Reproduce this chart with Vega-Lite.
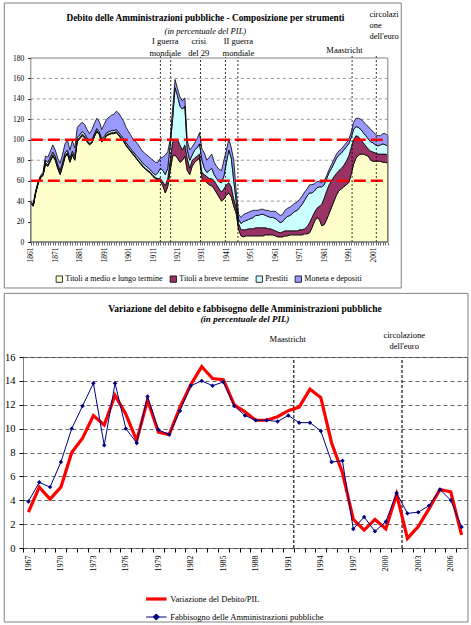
{
  "$schema": "https://vega.github.io/schema/vega-lite/v6.json",
  "padding": {"left": 3, "top": 2, "right": 4, "bottom": 3},
  "spacing": 3,
  "resolve": {"scale": {"color": "independent", "strokeWidth": "independent"}, "legend": {"color": "independent"}},
  "config": {
    "font": "Liberation Serif",
    "view": {"stroke": "#808080", "strokeWidth": 1},
    "axis": {"domain": false, "labelColor": "black", "tickColor": "black", "labelFont": "Liberation Serif"},
    "legend": {"labelFont": "Liberation Serif", "labelColor": "black"},
    "title": {"font": "Liberation Serif", "subtitleFont": "Liberation Serif", "color": "black", "subtitleColor": "black"}
  },
  "vconcat": [
    {
      "width": 364.8,
      "height": 184,
      "view": {"stroke": null},
      "title": {
        "text": "Debito delle Amministrazioni pubbliche - Composizione per strumenti",
        "subtitle": "(in percentuale del PIL)",
        "fontSize": 9.3,
        "fontWeight": "bold",
        "subtitleFontSize": 8.5,
        "subtitleFontStyle": "italic",
        "subtitlePadding": 3,
        "offset": -32.5,
        "anchor": "middle"
      },
      "encoding": {
        "x": {
          "field": "anno",
          "type": "quantitative",
          "scale": {"domain": [1857.81, 2007], "nice": false, "zero": false},
          "axis": {
            "title": null,
            "values": [1861,1862,1863,1864,1865,1866,1867,1868,1869,1870,1871,1872,1873,1874,1875,1876,1877,1878,1879,1880,1881,1882,1883,1884,1885,1886,1887,1888,1889,1890,1891,1892,1893,1894,1895,1896,1897,1898,1899,1900,1901,1902,1903,1904,1905,1906,1907,1908,1909,1910,1911,1912,1913,1914,1915,1916,1917,1918,1919,1920,1921,1922,1923,1924,1925,1926,1927,1928,1929,1930,1931,1932,1933,1934,1935,1936,1937,1938,1939,1940,1941,1942,1943,1944,1945,1946,1947,1948,1949,1950,1951,1952,1953,1954,1955,1956,1957,1958,1959,1960,1961,1962,1963,1964,1965,1966,1967,1968,1969,1970,1971,1972,1973,1974,1975,1976,1977,1978,1979,1980,1981,1982,1983,1984,1985,1986,1987,1988,1989,1990,1991,1992,1993,1994,1995,1996,1997,1998,1999,2000,2001,2002,2003,2004,2005,2006,2007],
            "format": "d",
            "labelExpr": "(datum.value - 1861) % 10 == 0 ? datum.label : ''",
            "labelAngle": 270,
            "labelFontSize": 7.5,
            "labelPadding": 2,
            "tickSize": 3,
            "tickWidth": 0.6,
            "labelOverlap": false,
            "labelBound": false,
            "labelFlush": false,
            "grid": false
          }
        },
        "y": {
          "field": "val",
          "type": "quantitative",
          "scale": {"domain": [0, 180], "nice": false, "zero": false},
          "axis": {
            "title": null,
            "values": [0, 20, 40, 60, 80, 100, 120, 140, 160, 180],
            "labelFontSize": 7.5,
            "tickSize": 3,
            "labelPadding": 4,
            "offset": -7.8,
            "labelOverlap": false,
            "grid": false
          }
        }
      },
      "layer": [
        {
          "data": {"values": [{"anno": 1850.16, "anno2": 2012.5, "val": 233.8, "val2": -45}]},
          "mark": {"type": "rect", "filled": false, "stroke": "#808080", "strokeWidth": 1},
          "encoding": {"x2": {"field": "anno2"}, "y2": {"field": "val2"}}
        },
        {
          "data": {
            "values": [
              {"anno": 1861, "anno2": 2007, "val": 20}, {"anno": 1861, "anno2": 2007, "val": 40},
              {"anno": 1861, "anno2": 2007, "val": 60}, {"anno": 1861, "anno2": 2007, "val": 80},
              {"anno": 1861, "anno2": 2007, "val": 100}, {"anno": 1861, "anno2": 2007, "val": 120},
              {"anno": 1861, "anno2": 2007, "val": 140}, {"anno": 1861, "anno2": 2007, "val": 160}
            ]
          },
          "mark": {"type": "rule", "color": "#808080", "strokeWidth": 0.8, "strokeDash": [3, 3]},
          "encoding": {"x2": {"field": "anno2"}}
        },
        {
          "data": {
            "values": [
              {"anno": 1861, "a": 38, "b": 0.5, "c": 0.5, "d": 1},
              {"anno": 1862, "a": 35, "b": 0.5, "c": 0.5, "d": 1},
              {"anno": 1863, "a": 48, "b": 0.5, "c": 0.5, "d": 1},
              {"anno": 1864, "a": 57, "b": 0.5, "c": 0.5, "d": 1},
              {"anno": 1865, "a": 63, "b": 0.5, "c": 0.5, "d": 1},
              {"anno": 1866, "a": 65, "b": 0.5, "c": 0.5, "d": 2},
              {"anno": 1867, "a": 76, "b": 1.5, "c": 2.5, "d": 4},
              {"anno": 1868, "a": 74, "b": 1.5, "c": 2.5, "d": 5},
              {"anno": 1869, "a": 79, "b": 1.5, "c": 2.5, "d": 6},
              {"anno": 1870, "a": 84, "b": 1.5, "c": 2.5, "d": 7},
              {"anno": 1871, "a": 80, "b": 1.5, "c": 2.5, "d": 6},
              {"anno": 1872, "a": 72, "b": 1.5, "c": 2.5, "d": 6},
              {"anno": 1873, "a": 66, "b": 1.5, "c": 2.5, "d": 7},
              {"anno": 1874, "a": 74, "b": 1.5, "c": 2.5, "d": 8},
              {"anno": 1875, "a": 83, "b": 1.5, "c": 2.5, "d": 9},
              {"anno": 1876, "a": 86, "b": 1.5, "c": 2.5, "d": 10},
              {"anno": 1877, "a": 78, "b": 1.5, "c": 2.5, "d": 8},
              {"anno": 1878, "a": 85, "b": 1.5, "c": 2.5, "d": 10},
              {"anno": 1879, "a": 80, "b": 1.5, "c": 2.5, "d": 8},
              {"anno": 1880, "a": 98, "b": 1.5, "c": 2.5, "d": 10},
              {"anno": 1881, "a": 101, "b": 1.5, "c": 2.5, "d": 10},
              {"anno": 1882, "a": 104, "b": 1.5, "c": 2.5, "d": 9},
              {"anno": 1883, "a": 102, "b": 1.5, "c": 2.5, "d": 9},
              {"anno": 1884, "a": 98, "b": 1.5, "c": 2.5, "d": 8},
              {"anno": 1885, "a": 95, "b": 1.5, "c": 2.5, "d": 7},
              {"anno": 1886, "a": 97, "b": 1, "c": 2, "d": 10},
              {"anno": 1887, "a": 103, "b": 1, "c": 2, "d": 10},
              {"anno": 1888, "a": 108, "b": 1, "c": 2, "d": 10},
              {"anno": 1889, "a": 105, "b": 1, "c": 2, "d": 10},
              {"anno": 1890, "a": 98, "b": 1, "c": 2, "d": 9},
              {"anno": 1891, "a": 100, "b": 1, "c": 2, "d": 12},
              {"anno": 1892, "a": 104, "b": 1, "c": 2, "d": 13},
              {"anno": 1893, "a": 105, "b": 1, "c": 2, "d": 14},
              {"anno": 1894, "a": 106, "b": 1, "c": 2, "d": 15},
              {"anno": 1895, "a": 106, "b": 1, "c": 2, "d": 16},
              {"anno": 1896, "a": 107, "b": 1, "c": 2, "d": 18},
              {"anno": 1897, "a": 104, "b": 1, "c": 2, "d": 19},
              {"anno": 1898, "a": 101, "b": 1, "c": 2, "d": 18},
              {"anno": 1899, "a": 98, "b": 1, "c": 2, "d": 17},
              {"anno": 1900, "a": 94, "b": 1, "c": 2, "d": 15},
              {"anno": 1901, "a": 91, "b": 1, "c": 2, "d": 14},
              {"anno": 1902, "a": 88, "b": 1, "c": 2, "d": 13},
              {"anno": 1903, "a": 85, "b": 1, "c": 2, "d": 12},
              {"anno": 1904, "a": 82, "b": 1, "c": 2, "d": 13},
              {"anno": 1905, "a": 79, "b": 1, "c": 2.5, "d": 12.5},
              {"anno": 1906, "a": 76, "b": 1, "c": 2.5, "d": 11.5},
              {"anno": 1907, "a": 73, "b": 1, "c": 2.5, "d": 11.5},
              {"anno": 1908, "a": 71, "b": 1, "c": 2.5, "d": 11.5},
              {"anno": 1909, "a": 69, "b": 1, "c": 2.5, "d": 11.5},
              {"anno": 1910, "a": 67, "b": 1, "c": 2.5, "d": 11.5},
              {"anno": 1911, "a": 64, "b": 1, "c": 2.5, "d": 12.5},
              {"anno": 1912, "a": 62, "b": 1, "c": 2.5, "d": 12.5},
              {"anno": 1913, "a": 60, "b": 2, "c": 6, "d": 10},
              {"anno": 1914, "a": 59, "b": 3, "c": 10, "d": 10},
              {"anno": 1915, "a": 55, "b": 4, "c": 11, "d": 13},
              {"anno": 1916, "a": 48, "b": 7, "c": 11, "d": 19},
              {"anno": 1917, "a": 54, "b": 8, "c": 10, "d": 16},
              {"anno": 1918, "a": 70, "b": 10, "c": 15, "d": 5},
              {"anno": 1919, "a": 84, "b": 14, "c": 22, "d": 10},
              {"anno": 1920, "a": 85, "b": 15, "c": 51, "d": 8},
              {"anno": 1921, "a": 82, "b": 18, "c": 43, "d": 7},
              {"anno": 1922, "a": 78, "b": 17, "c": 38, "d": 9},
              {"anno": 1923, "a": 80, "b": 10, "c": 40, "d": 8},
              {"anno": 1924, "a": 84, "b": 11, "c": 38, "d": 8},
              {"anno": 1925, "a": 70, "b": 12, "c": 8, "d": 9},
              {"anno": 1926, "a": 66, "b": 6, "c": 8, "d": 10},
              {"anno": 1927, "a": 74, "b": 6, "c": 5, "d": 8},
              {"anno": 1928, "a": 78, "b": 4, "c": 8, "d": 7},
              {"anno": 1929, "a": 80, "b": 4, "c": 8, "d": 9},
              {"anno": 1930, "a": 82, "b": 4, "c": 10, "d": 11},
              {"anno": 1931, "a": 62, "b": 6, "c": 12, "d": 11},
              {"anno": 1932, "a": 60, "b": 6, "c": 6, "d": 15},
              {"anno": 1933, "a": 58, "b": 6, "c": 4, "d": 12},
              {"anno": 1934, "a": 56, "b": 6, "c": 8, "d": 13},
              {"anno": 1935, "a": 55, "b": 7, "c": 10, "d": 14},
              {"anno": 1936, "a": 52, "b": 8, "c": 6, "d": 12},
              {"anno": 1937, "a": 48, "b": 8, "c": 6, "d": 12},
              {"anno": 1938, "a": 44, "b": 8, "c": 7, "d": 12},
              {"anno": 1939, "a": 40, "b": 9, "c": 9, "d": 12},
              {"anno": 1940, "a": 42, "b": 10, "c": 13, "d": 15},
              {"anno": 1941, "a": 46, "b": 10, "c": 22, "d": 12},
              {"anno": 1942, "a": 48, "b": 10, "c": 32, "d": 11},
              {"anno": 1943, "a": 44, "b": 10, "c": 28, "d": 10},
              {"anno": 1944, "a": 35, "b": 7, "c": 18, "d": 20},
              {"anno": 1945, "a": 28, "b": 6, "c": 6, "d": 10},
              {"anno": 1946, "a": 12, "b": 6, "c": 4, "d": 5},
              {"anno": 1947, "a": 6, "b": 6, "c": 6, "d": 6},
              {"anno": 1948, "a": 5, "b": 7, "c": 8, "d": 7},
              {"anno": 1949, "a": 6, "b": 6, "c": 9, "d": 7},
              {"anno": 1950, "a": 6, "b": 7, "c": 9, "d": 7},
              {"anno": 1951, "a": 6, "b": 7, "c": 10, "d": 7},
              {"anno": 1952, "a": 6, "b": 7, "c": 11, "d": 7},
              {"anno": 1953, "a": 6, "b": 8, "c": 12, "d": 5},
              {"anno": 1954, "a": 6, "b": 8, "c": 12, "d": 5},
              {"anno": 1955, "a": 6, "b": 8, "c": 13, "d": 5},
              {"anno": 1956, "a": 6, "b": 8, "c": 13, "d": 5},
              {"anno": 1957, "a": 7, "b": 7, "c": 12, "d": 5},
              {"anno": 1958, "a": 7, "b": 6, "c": 12, "d": 6},
              {"anno": 1959, "a": 7, "b": 6, "c": 11, "d": 6},
              {"anno": 1960, "a": 7, "b": 5, "c": 12, "d": 6},
              {"anno": 1961, "a": 6, "b": 5, "c": 12, "d": 7},
              {"anno": 1962, "a": 5, "b": 5, "c": 11, "d": 7},
              {"anno": 1963, "a": 5, "b": 4, "c": 10, "d": 7},
              {"anno": 1964, "a": 5, "b": 5, "c": 10, "d": 7},
              {"anno": 1965, "a": 6, "b": 5, "c": 12, "d": 8},
              {"anno": 1966, "a": 6, "b": 5, "c": 14, "d": 8},
              {"anno": 1967, "a": 7, "b": 4, "c": 15, "d": 8},
              {"anno": 1968, "a": 7, "b": 4, "c": 17, "d": 8},
              {"anno": 1969, "a": 7, "b": 4, "c": 19, "d": 8},
              {"anno": 1970, "a": 7, "b": 4, "c": 20, "d": 8},
              {"anno": 1971, "a": 7, "b": 5, "c": 22, "d": 8},
              {"anno": 1972, "a": 7, "b": 5, "c": 25, "d": 8},
              {"anno": 1973, "a": 8, "b": 5, "c": 28, "d": 8},
              {"anno": 1974, "a": 8, "b": 7, "c": 30, "d": 7},
              {"anno": 1975, "a": 9, "b": 10, "c": 29, "d": 8},
              {"anno": 1976, "a": 14, "b": 10, "c": 24, "d": 8},
              {"anno": 1977, "a": 20, "b": 9, "c": 21, "d": 7},
              {"anno": 1978, "a": 24, "b": 9, "c": 20, "d": 6},
              {"anno": 1979, "a": 22, "b": 13, "c": 19, "d": 5},
              {"anno": 1980, "a": 16, "b": 21, "c": 17, "d": 4},
              {"anno": 1981, "a": 17, "b": 26, "c": 13, "d": 4},
              {"anno": 1982, "a": 22, "b": 28, "c": 12, "d": 3},
              {"anno": 1983, "a": 28, "b": 28, "c": 12, "d": 3},
              {"anno": 1984, "a": 34, "b": 26, "c": 12, "d": 4},
              {"anno": 1985, "a": 40, "b": 24, "c": 13, "d": 4},
              {"anno": 1986, "a": 46, "b": 21, "c": 15, "d": 4},
              {"anno": 1987, "a": 50, "b": 20, "c": 15, "d": 4},
              {"anno": 1988, "a": 52, "b": 20, "c": 15, "d": 4},
              {"anno": 1989, "a": 54, "b": 21, "c": 15, "d": 4},
              {"anno": 1990, "a": 56, "b": 23, "c": 14, "d": 4},
              {"anno": 1991, "a": 58, "b": 26, "c": 12, "d": 4},
              {"anno": 1992, "a": 66, "b": 26, "c": 10, "d": 5},
              {"anno": 1993, "a": 76, "b": 24, "c": 10, "d": 7},
              {"anno": 1994, "a": 82, "b": 22, "c": 9, "d": 8},
              {"anno": 1995, "a": 85, "b": 18, "c": 9, "d": 9},
              {"anno": 1996, "a": 86, "b": 14, "c": 10, "d": 10},
              {"anno": 1997, "a": 86, "b": 11, "c": 10, "d": 11},
              {"anno": 1998, "a": 85, "b": 9, "c": 10, "d": 11},
              {"anno": 1999, "a": 84, "b": 7, "c": 10, "d": 12},
              {"anno": 2000, "a": 80, "b": 9, "c": 9, "d": 12},
              {"anno": 2001, "a": 79, "b": 9, "c": 9, "d": 11},
              {"anno": 2002, "a": 79, "b": 8, "c": 8, "d": 10},
              {"anno": 2003, "a": 79, "b": 7, "c": 8, "d": 10},
              {"anno": 2004, "a": 79, "b": 7, "c": 9, "d": 9},
              {"anno": 2005, "a": 78, "b": 8, "c": 10, "d": 10},
              {"anno": 2006, "a": 78, "b": 8, "c": 9, "d": 11},
              {"anno": 2007, "a": 77, "b": 8, "c": 9, "d": 10}
            ]
          },
          "transform": [{"fold": ["a", "b", "c", "d"], "as": ["serie", "val"]}],
          "mark": {"type": "area", "stroke": "black", "strokeWidth": 0.8},
          "encoding": {
            "color": {
              "field": "serie",
              "type": "nominal",
              "scale": {"domain": ["a", "b", "c", "d"], "range": ["#FFFFCC", "#993366", "#CCFFFF", "#9999FF"]},
              "legend": {
                "orient": "none",
                "legendX": 32.3,
                "legendY": 217,
                "direction": "horizontal",
                "title": null,
                "symbolType": "square",
                "symbolSize": 40,
                "symbolStrokeColor": "black",
                "symbolStrokeWidth": 0.8,
                "labelFontSize": 8,
                "labelOffset": 2,
                "columnPadding": 5,
                "labelExpr": "datum.label == 'a' ? 'Titoli a medio e lungo termine' : datum.label == 'b' ? 'Titoli a breve termine' : datum.label == 'c' ? 'Prestiti' : 'Moneta e depositi'"
              }
            },
            "order": {"field": "serie", "type": "ordinal", "sort": "ascending"}
          }
        },
        {
          "data": {"values": [{"anno": 1861, "anno2": 2007, "val": 60}, {"anno": 1861, "anno2": 2007, "val": 100}]},
          "mark": {"type": "rule", "color": "#FF0000", "strokeWidth": 2.5, "strokeDash": [12, 5]},
          "encoding": {"x2": {"field": "anno2"}}
        },
        {
          "data": {
            "values": [
              {"anno": 1914, "val": 0, "val2": 183.5},
              {"anno": 1918.2, "val": 0, "val2": 183.5},
              {"anno": 1930.4, "val": 0, "val2": 181},
              {"anno": 1940.6, "val": 0, "val2": 181},
              {"anno": 1945.7, "val": 0, "val2": 181},
              {"anno": 1992.4, "val": 0, "val2": 182},
              {"anno": 2002.3, "val": 0, "val2": 183}
            ]
          },
          "mark": {"type": "rule", "color": "black", "strokeWidth": 0.8, "strokeDash": [2, 2]},
          "encoding": {"y2": {"field": "val2"}}
        },
        {
          "data": {"values": [{"anno": 1861, "anno2": 2007, "val": 0, "val2": 180}]},
          "mark": {"type": "rect", "filled": false, "stroke": "#808080", "strokeWidth": 1},
          "encoding": {"x2": {"field": "anno2"}, "y2": {"field": "val2"}}
        },
        {
          "data": {
            "values": [
              {"anno": 1916, "val": 191.3, "t": "I guerra\nmondiale"},
              {"anno": 1929.7, "val": 191.3, "t": "crisi\ndel 29"},
              {"anno": 1945.9, "val": 191.3, "t": "II guerra\nmondiale"},
              {"anno": 1989.3, "val": 183, "t": "Maastricht"}
            ]
          },
          "mark": {"type": "text", "fontSize": 8.5, "lineBreak": "\n", "lineHeight": 11.5, "align": "center", "baseline": "bottom", "color": "black"},
          "encoding": {"text": {"field": "t", "type": "nominal"}}
        },
        {
          "data": {"values": [{"anno": 1999.5, "val": 217.7, "t": "circolazi\none\ndell'euro"}]},
          "mark": {"type": "text", "fontSize": 8.5, "lineBreak": "\n", "lineHeight": 11, "align": "left", "baseline": "bottom", "color": "black"},
          "encoding": {"text": {"field": "t", "type": "nominal"}}
        }
      ]
    },
    {
      "width": 444,
      "height": 191,
      "title": {
        "text": "Variazione del debito e fabbisogno delle Amministrazioni pubbliche",
        "subtitle": "(in percentuale del PIL)",
        "fontSize": 9.5,
        "fontWeight": "bold",
        "subtitleFontSize": 9,
        "subtitleFontStyle": "italic",
        "subtitleFontWeight": "bold",
        "subtitlePadding": 1,
        "offset": -31,
        "anchor": "middle"
      },
      "encoding": {
        "x": {
          "field": "anno",
          "type": "quantitative",
          "scale": {"domain": [1966.5, 2007.5], "nice": false, "zero": false},
          "axis": {
            "title": null,
            "values": [1967,1968,1969,1970,1971,1972,1973,1974,1975,1976,1977,1978,1979,1980,1981,1982,1983,1984,1985,1986,1987,1988,1989,1990,1991,1992,1993,1994,1995,1996,1997,1998,1999,2000,2001,2002,2003,2004,2005,2006,2007],
            "format": "d",
            "labelExpr": "(datum.value - 1967) % 3 == 0 ? datum.label : ''",
            "labelAngle": 270,
            "labelFontSize": 8,
            "labelPadding": 3,
            "tickSize": 4,
            "tickOffset": -5.41,
            "labelOffset": 5.41,
            "labelOverlap": false,
            "labelBound": false,
            "labelFlush": false,
            "grid": false
          }
        },
        "y": {
          "field": "val",
          "type": "quantitative",
          "scale": {"domain": [0, 16], "nice": false, "zero": false},
          "axis": {
            "title": null,
            "values": [0, 2, 4, 6, 8, 10, 12, 14, 16],
            "labelFontSize": 10.5,
            "tickSize": 4,
            "labelPadding": 4,
            "labelOverlap": false,
            "grid": true,
            "gridDash": [4, 3],
            "gridColor": "#404040",
            "gridWidth": 0.8
          }
        }
      },
      "layer": [
        {
          "data": {"values": [{"anno": 1964.77, "anno2": 2007.59, "val": 21.33, "val2": -6.2}]},
          "mark": {"type": "rect", "filled": false, "stroke": "#808080", "strokeWidth": 1},
          "encoding": {"x2": {"field": "anno2"}, "y2": {"field": "val2"}}
        },
        {
          "data": {"values": [{"anno": 1991.5, "val": 0, "val2": 16}, {"anno": 2001.5, "val": 0, "val2": 16}]},
          "mark": {"type": "rule", "color": "#404040", "strokeWidth": 1.5, "strokeDash": [3, 2]},
          "encoding": {"y2": {"field": "val2"}}
        },
        {
          "data": {
            "values": [
              {"anno": 1967, "s": "v", "val": 3.0}, {"anno": 1968, "s": "v", "val": 5.1}, {"anno": 1969, "s": "v", "val": 4.1},
              {"anno": 1970, "s": "v", "val": 5.1}, {"anno": 1971, "s": "v", "val": 8.0}, {"anno": 1972, "s": "v", "val": 9.2},
              {"anno": 1973, "s": "v", "val": 11.1}, {"anno": 1974, "s": "v", "val": 10.3}, {"anno": 1975, "s": "v", "val": 12.8},
              {"anno": 1976, "s": "v", "val": 11.2}, {"anno": 1977, "s": "v", "val": 9.0}, {"anno": 1978, "s": "v", "val": 12.4},
              {"anno": 1979, "s": "v", "val": 9.7}, {"anno": 1980, "s": "v", "val": 9.5}, {"anno": 1981, "s": "v", "val": 11.8},
              {"anno": 1982, "s": "v", "val": 13.7}, {"anno": 1983, "s": "v", "val": 15.2}, {"anno": 1984, "s": "v", "val": 14.2},
              {"anno": 1985, "s": "v", "val": 14.1}, {"anno": 1986, "s": "v", "val": 12.0}, {"anno": 1987, "s": "v", "val": 11.4},
              {"anno": 1988, "s": "v", "val": 10.7}, {"anno": 1989, "s": "v", "val": 10.7}, {"anno": 1990, "s": "v", "val": 11.0},
              {"anno": 1991, "s": "v", "val": 11.5}, {"anno": 1992, "s": "v", "val": 11.8}, {"anno": 1993, "s": "v", "val": 13.3},
              {"anno": 1994, "s": "v", "val": 12.6}, {"anno": 1995, "s": "v", "val": 8.8}, {"anno": 1996, "s": "v", "val": 6.3},
              {"anno": 1997, "s": "v", "val": 2.4}, {"anno": 1998, "s": "v", "val": 1.5}, {"anno": 1999, "s": "v", "val": 2.4},
              {"anno": 2000, "s": "v", "val": 1.6}, {"anno": 2001, "s": "v", "val": 4.5}, {"anno": 2002, "s": "v", "val": 0.8},
              {"anno": 2003, "s": "v", "val": 1.8}, {"anno": 2004, "s": "v", "val": 3.3}, {"anno": 2005, "s": "v", "val": 4.9},
              {"anno": 2006, "s": "v", "val": 4.7}, {"anno": 2007, "s": "v", "val": 1.1},
              {"anno": 1967, "s": "f", "val": 3.9}, {"anno": 1968, "s": "f", "val": 5.5}, {"anno": 1969, "s": "f", "val": 5.1},
              {"anno": 1970, "s": "f", "val": 7.2}, {"anno": 1971, "s": "f", "val": 10.0}, {"anno": 1972, "s": "f", "val": 11.9},
              {"anno": 1973, "s": "f", "val": 13.8}, {"anno": 1974, "s": "f", "val": 8.6}, {"anno": 1975, "s": "f", "val": 13.8},
              {"anno": 1976, "s": "f", "val": 10.0}, {"anno": 1977, "s": "f", "val": 8.8}, {"anno": 1978, "s": "f", "val": 12.7},
              {"anno": 1979, "s": "f", "val": 9.9}, {"anno": 1980, "s": "f", "val": 9.5}, {"anno": 1981, "s": "f", "val": 11.5},
              {"anno": 1982, "s": "f", "val": 13.6}, {"anno": 1983, "s": "f", "val": 14.0}, {"anno": 1984, "s": "f", "val": 13.6},
              {"anno": 1985, "s": "f", "val": 13.9}, {"anno": 1986, "s": "f", "val": 11.9}, {"anno": 1987, "s": "f", "val": 11.1},
              {"anno": 1988, "s": "f", "val": 10.7}, {"anno": 1989, "s": "f", "val": 10.7}, {"anno": 1990, "s": "f", "val": 10.6},
              {"anno": 1991, "s": "f", "val": 11.1}, {"anno": 1992, "s": "f", "val": 10.5}, {"anno": 1993, "s": "f", "val": 10.5},
              {"anno": 1994, "s": "f", "val": 9.8}, {"anno": 1995, "s": "f", "val": 7.2}, {"anno": 1996, "s": "f", "val": 7.3},
              {"anno": 1997, "s": "f", "val": 1.6}, {"anno": 1998, "s": "f", "val": 2.6}, {"anno": 1999, "s": "f", "val": 1.4},
              {"anno": 2000, "s": "f", "val": 2.2}, {"anno": 2001, "s": "f", "val": 4.6}, {"anno": 2002, "s": "f", "val": 2.9},
              {"anno": 2003, "s": "f", "val": 3.0}, {"anno": 2004, "s": "f", "val": 3.55}, {"anno": 2005, "s": "f", "val": 4.9},
              {"anno": 2006, "s": "f", "val": 4.0}, {"anno": 2007, "s": "f", "val": 1.75}
            ]
          },
          "mark": {"type": "line"},
          "encoding": {
            "color": {
              "field": "s",
              "type": "nominal",
              "scale": {"domain": ["v", "f"], "range": ["#FF0000", "#000080"]},
              "legend": {
                "orient": "none",
                "legendX": 121.3,
                "legendY": 230,
                "direction": "vertical",
                "title": null,
                "symbolType": "stroke",
                "symbolSize": 420,
                "symbolStrokeWidth": 2,
                "labelFontSize": 8.5,
                "labelOffset": 2,
                "rowPadding": -9.5,
                "labelExpr": "datum.label == 'v' ? 'Variazione del Debito/PIL' : 'Fabbisogno delle Amministrazioni pubbliche'",
                "encode": {
                  "symbols": {
                    "update": {
                      "strokeWidth": {"signal": "datum.value == 'v' ? 3.2 : 1"},
                      "shape": {"signal": "datum.value == 'v' ? 'stroke' : 'M-1,0H1M0,-0.3L0.3,0L0,0.3L-0.3,0Z'"},
                      "fill": {"signal": "datum.value == 'v' ? 'transparent' : '#000080'"}
                    }
                  }
                }
              }
            },
            "strokeWidth": {
              "field": "s",
              "type": "nominal",
              "scale": {"domain": ["v", "f"], "range": [3.2, 1]},
              "legend": null
            }
          }
        },
        {
          "data": {
            "values": [
              {"anno": 1967, "val": 3.9}, {"anno": 1968, "val": 5.5}, {"anno": 1969, "val": 5.1},
              {"anno": 1970, "val": 7.2}, {"anno": 1971, "val": 10.0}, {"anno": 1972, "val": 11.9},
              {"anno": 1973, "val": 13.8}, {"anno": 1974, "val": 8.6}, {"anno": 1975, "val": 13.8},
              {"anno": 1976, "val": 10.0}, {"anno": 1977, "val": 8.8}, {"anno": 1978, "val": 12.7},
              {"anno": 1979, "val": 9.9}, {"anno": 1980, "val": 9.5}, {"anno": 1981, "val": 11.5},
              {"anno": 1982, "val": 13.6}, {"anno": 1983, "val": 14.0}, {"anno": 1984, "val": 13.6},
              {"anno": 1985, "val": 13.9}, {"anno": 1986, "val": 11.9}, {"anno": 1987, "val": 11.1},
              {"anno": 1988, "val": 10.7}, {"anno": 1989, "val": 10.7}, {"anno": 1990, "val": 10.6},
              {"anno": 1991, "val": 11.1}, {"anno": 1992, "val": 10.5}, {"anno": 1993, "val": 10.5},
              {"anno": 1994, "val": 9.8}, {"anno": 1995, "val": 7.2}, {"anno": 1996, "val": 7.3},
              {"anno": 1997, "val": 1.6}, {"anno": 1998, "val": 2.6}, {"anno": 1999, "val": 1.4},
              {"anno": 2000, "val": 2.2}, {"anno": 2001, "val": 4.6}, {"anno": 2002, "val": 2.9},
              {"anno": 2003, "val": 3.0}, {"anno": 2004, "val": 3.55}, {"anno": 2005, "val": 4.9},
              {"anno": 2006, "val": 4.0}, {"anno": 2007, "val": 1.75}
            ]
          },
          "mark": {"type": "point", "shape": "diamond", "filled": true, "color": "#000080", "size": 20, "opacity": 1}
        },
        {
          "data": {
            "values": [
              {"anno": 1990.95, "val": 17.1, "t": "Maastricht"},
              {"anno": 2001.7, "val": 17.43, "t": "circolazione\ndell'euro"}
            ]
          },
          "mark": {"type": "text", "fontSize": 8.5, "lineBreak": "\n", "lineHeight": 11.5, "align": "center", "baseline": "bottom", "color": "black"},
          "encoding": {"text": {"field": "t", "type": "nominal"}}
        }
      ]
    }
  ]
}
